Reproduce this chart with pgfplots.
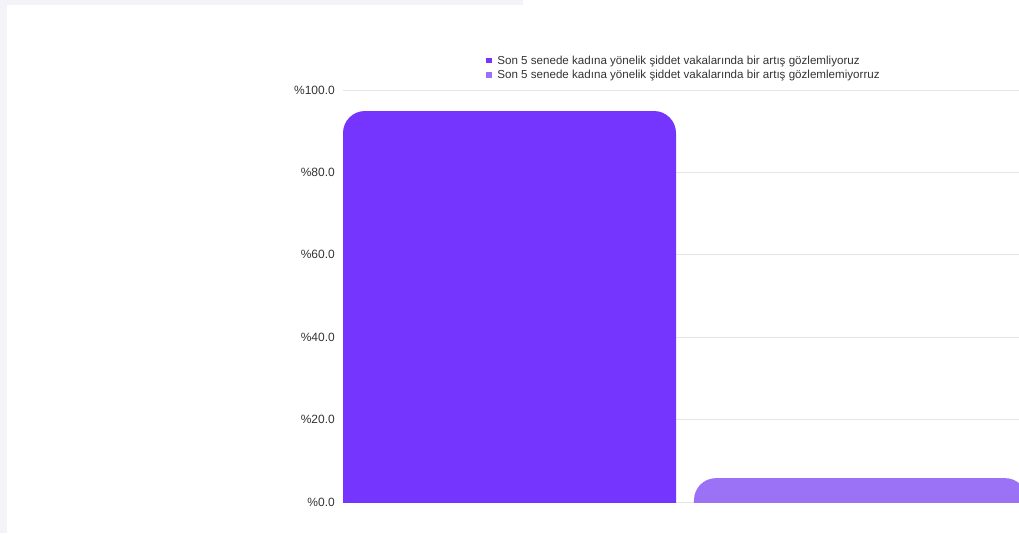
\documentclass[border=0pt]{standalone}
\usepackage{pgfplots}
\pgfplotsset{compat=1.18}
\usepackage{fontspec}
\setmainfont{Liberation Sans}
\definecolor{cA}{HTML}{7535FF}
\definecolor{cB}{HTML}{9B71F6}
\definecolor{strip}{HTML}{F4F4F8}
\definecolor{txt}{HTML}{333333}
\begin{document}
\begin{tikzpicture}[x=1pt,y=1pt]
\useasboundingbox (0,0) rectangle (1019,533);
\clip (0,0) rectangle (1019,533);
\fill[strip] (0,0) rectangle (7,533);
\fill[strip] (0,528) rectangle (523,533);
\begin{axis}[
  at={(343pt,31pt)}, anchor=south west,
  scale only axis, width=684pt, height=412pt,
  xmin=-0.4744, xmax=1.4744, ymin=0, ymax=100,
  axis line style={draw=none},
  major tick length=0pt,
  xtick=\empty,
  ytick={0,20,...,100},
  ymajorgrids, grid style={draw=black!10, line width=0.8pt},
  /pgf/number format/assume math mode=true,
  yticklabel={\%\pgfmathprintnumber[fixed,fixed zerofill,precision=1]{\tick}},
  yticklabel style={inner sep=0pt, xshift=-8pt, text=txt, font=\fontsize{12}{14}\selectfont},
  legend style={at={(axis description cs:0.2091,1.0874)}, anchor=north west,
    draw=none, fill=none, inner sep=0pt, row sep=1.5pt, column sep=4pt,
    font=\fontsize{11.6}{13.5}\selectfont, text=txt,
    nodes={inner sep=1.5pt}},
  legend cell align=left,
  legend image code/.code={\fill[#1, sharp corners] (0pt,-2.8pt) rectangle (5.6pt,2.8pt);},
]
\addplot[fill=cA, draw=none, rounded corners=22pt]
  coordinates {(-0.4744,-30) (-0.4744,94.9) (0.4744,94.9) (0.4744,-30)} -- cycle;
\addlegendentry{Son 5 senede kadına yönelik şiddet vakalarında bir artış gözlemliyoruz}
\addplot[fill=cB, draw=none, rounded corners=22pt]
  coordinates {(0.5256,-30) (0.5256,5.8) (1.4744,5.8) (1.4744,-30)} -- cycle;
\addlegendentry{Son 5 senede kadına yönelik şiddet vakalarında bir artış gözlemlemiyorruz}
\end{axis}
\end{tikzpicture}
\end{document}
